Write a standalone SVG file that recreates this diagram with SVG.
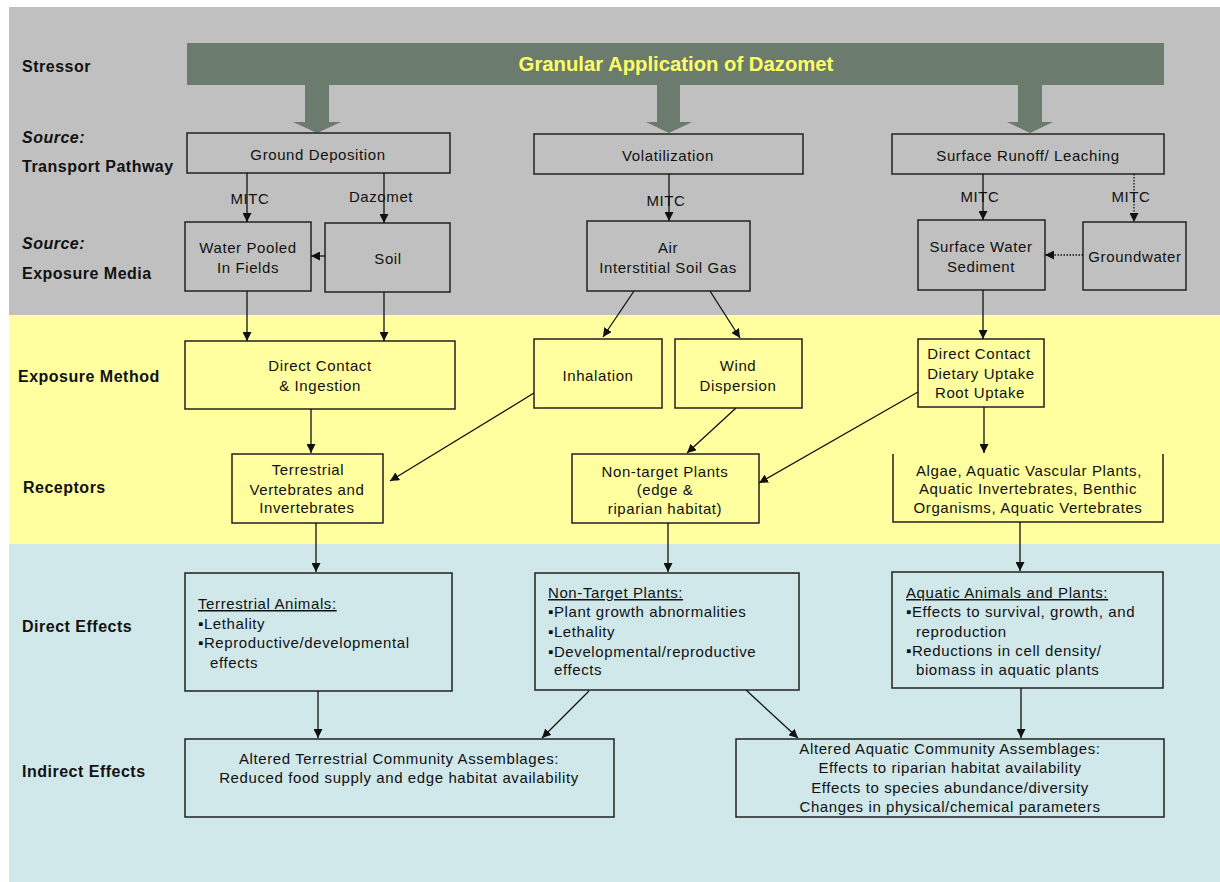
<svg xmlns="http://www.w3.org/2000/svg" width="1220" height="882" viewBox="0 0 1220 882">
<defs>
<style>
.t{font-family:"Liberation Sans",Arial,sans-serif;font-size:15px;letter-spacing:0.6px;fill:#111;text-anchor:middle}
.l{font-family:"Liberation Sans",Arial,sans-serif;font-size:15px;letter-spacing:0.6px;fill:#111;text-anchor:start}
.h{font-family:"Liberation Sans",Arial,sans-serif;font-size:16px;font-weight:bold;letter-spacing:0.5px;fill:#111}
.hi{font-style:italic}
.box{fill:none;stroke:#222;stroke-width:1.5}
.c{stroke:#111;stroke-width:1.3;fill:none;marker-end:url(#ah)}
.d{stroke-dasharray:1.5 1.5}
.u{text-decoration:underline}
.big{fill:#6B7B6E}
</style>
<marker id="ah" markerUnits="userSpaceOnUse" markerWidth="9" markerHeight="9" refX="9" refY="4.5" orient="auto">
<path d="M0,0 L9,4.5 L0,9 z" fill="#111"/>
</marker>
</defs>
<rect width="1220" height="882" fill="#fff"/>
<rect x="9" y="7" width="1211" height="308" fill="#C0C0C0"/>
<rect x="9" y="315" width="1211" height="229" fill="#FFFF9F"/>
<rect x="9" y="544" width="1211" height="338" fill="#D0E8EA"/>

<g id="row-labels">
<text class="h" x="22" y="72">Stressor</text>
<text class="h hi" x="22" y="143">Source:</text>
<text class="h" x="22" y="172">Transport Pathway</text>
<text class="h hi" x="22" y="249">Source:</text>
<text class="h" x="22" y="279">Exposure Media</text>
<text class="h" x="18" y="382">Exposure Method</text>
<text class="h" x="23" y="493">Receptors</text>
<text class="h" x="22" y="632">Direct Effects</text>
<text class="h" x="22" y="777">Indirect Effects</text>
</g>

<g id="stressor">
<rect class="big" x="187" y="43" width="977" height="42"/>
<polygon class="big" points="305,85 329,85 329,122 341,122 317,133 293,122 305,122"/>
<polygon class="big" points="657,85 680,85 680,122 692,122 669,133 646,122 657,122"/>
<polygon class="big" points="1018,85 1042,85 1042,122 1053,122 1030,133 1007,122 1018,122"/>
<text x="676" y="71" font-family="Liberation Sans,Arial,sans-serif" font-size="20.3" font-weight="bold" fill="#FFFF66" text-anchor="middle">Granular Application of Dazomet</text>
</g>

<g id="ground-deposition"><rect class="box" x="187" y="133" width="263" height="40"/><text class="t" x="318" y="160">Ground Deposition</text></g>
<g id="volatilization"><rect class="box" x="534" y="134" width="269" height="40"/><text class="t" x="668" y="161">Volatilization</text></g>
<g id="surface-runoff"><rect class="box" x="892" y="134" width="272" height="40"/><text class="t" x="1028" y="161">Surface Runoff/ Leaching</text></g>

<g id="water-pooled"><rect class="box" x="185" y="222" width="126" height="69"/><text class="t" x="248" y="253">Water Pooled</text><text class="t" x="248" y="273">In Fields</text></g>
<g id="soil"><rect class="box" x="325" y="223" width="125" height="69"/><text class="t" x="388" y="264">Soil</text></g>
<g id="air"><rect class="box" x="587" y="221" width="163" height="70"/><text class="t" x="668" y="253">Air</text><text class="t" x="668" y="273">Interstitial Soil Gas</text></g>
<g id="surface-water"><rect class="box" x="918" y="220" width="127" height="70"/><text class="t" x="981" y="252">Surface Water</text><text class="t" x="981" y="272">Sediment</text></g>
<g id="groundwater"><rect class="box" x="1083" y="222" width="103" height="68"/><text class="t" x="1135" y="262">Groundwater</text></g>

<g id="direct-contact-ingestion"><rect class="box" x="185" y="341" width="270" height="68"/><text class="t" x="320" y="371">Direct Contact</text><text class="t" x="320" y="391">&amp; Ingestion</text></g>
<g id="inhalation"><rect class="box" x="534" y="339" width="128" height="69"/><text class="t" x="598" y="381">Inhalation</text></g>
<g id="wind-dispersion"><rect class="box" x="675" y="339" width="127" height="69"/><text class="t" x="738" y="371">Wind</text><text class="t" x="738" y="391">Dispersion</text></g>
<g id="direct-contact-aquatic"><rect class="box" x="918" y="339" width="126" height="68"/><text class="t" x="979" y="359">Direct Contact</text><text class="t" x="981" y="379">Dietary Uptake</text><text class="t" x="980" y="398">Root Uptake</text></g>

<g id="terrestrial-receptors"><rect class="box" x="232" y="454" width="151" height="69"/><text class="t" x="308" y="475">Terrestrial</text><text class="t" x="307" y="495">Vertebrates and</text><text class="t" x="307" y="513">Invertebrates</text></g>
<g id="nontarget-receptors"><rect class="box" x="572" y="454" width="187" height="69"/><text class="t" x="665" y="477">Non-target Plants</text><text class="t" x="665" y="495">(edge &amp;</text><text class="t" x="665" y="514">riparian habitat)</text></g>
<g id="aquatic-receptors"><path class="box" d="M893,454 V522 H1163 V454"/><text class="t" x="1029" y="476">Algae, Aquatic Vascular Plants,</text><text class="t" x="1028" y="494">Aquatic Invertebrates, Benthic</text><text class="t" x="1028" y="513">Organisms, Aquatic Vertebrates</text></g>

<g id="terrestrial-effects"><rect class="box" x="185" y="573" width="267" height="118"/>
<text class="l u" x="198" y="609">Terrestrial Animals:</text>
<text class="l" x="198" y="629">▪Lethality</text>
<text class="l" x="198" y="648">▪Reproductive/developmental</text>
<text class="l" x="210" y="668">effects</text></g>
<g id="nontarget-effects"><rect class="box" x="535" y="573" width="264" height="117"/>
<text class="l u" x="548" y="598">Non-Target Plants:</text>
<text class="l" x="548" y="617">▪Plant growth abnormalities</text>
<text class="l" x="548" y="637">▪Lethality</text>
<text class="l" x="548" y="657">▪Developmental/reproductive</text>
<text class="l" x="554" y="675">effects</text></g>
<g id="aquatic-effects"><rect class="box" x="892" y="572" width="271" height="116"/>
<text class="l u" x="906" y="598">Aquatic Animals and Plants:</text>
<text class="l" x="906" y="617">▪Effects to survival, growth, and</text>
<text class="l" x="916" y="637">reproduction</text>
<text class="l" x="906" y="656">▪Reductions in cell density/</text>
<text class="l" x="916" y="675">biomass in aquatic plants</text></g>

<g id="terrestrial-community"><rect class="box" x="185" y="739" width="429" height="78"/>
<text class="t" x="399" y="764">Altered Terrestrial Community Assemblages:</text>
<text class="t" x="399" y="783">Reduced food supply and edge habitat availability</text></g>
<g id="aquatic-community"><rect class="box" x="736" y="739" width="428" height="78"/>
<text class="t" x="950" y="754">Altered Aquatic Community Assemblages:</text>
<text class="t" x="950" y="773">Effects to riparian habitat availability</text>
<text class="t" x="950" y="793">Effects to species abundance/diversity</text>
<text class="t" x="950" y="812">Changes in physical/chemical parameters</text></g>

<g id="connectors">
<path class="c" d="M247,173 V222"/>
<path class="c" d="M384,173 V223"/>
<path class="c" d="M325,256 H311"/>
<path class="c" d="M669,174 V221"/>
<path class="c" d="M983,174 V220"/>
<path class="c d" d="M1134,174 V222"/>
<path class="c d" d="M1083,255 H1045"/>
<path class="c" d="M247,291 V341"/>
<path class="c" d="M384,292 V341"/>
<path class="c" d="M634,291 L603,337"/>
<path class="c" d="M710,291 L740,338"/>
<path class="c" d="M983,290 V339"/>
<path class="c" d="M311,409 V453"/>
<path class="c" d="M534,393 L390,481"/>
<path class="c" d="M736,408 L687,453"/>
<path class="c" d="M918,392 L759,483"/>
<path class="c" d="M984,407 V453"/>
<path class="c" d="M316,523 V572"/>
<path class="c" d="M668,523 V572"/>
<path class="c" d="M1020,522 V571"/>
<path class="c" d="M318,691 V738"/>
<path class="c" d="M589,691 L542,738"/>
<path class="c" d="M746,690 L798,738"/>
<path class="c" d="M1021,688 V738"/>
<text class="t" x="250" y="204">MITC</text>
<text class="t" x="381" y="202">Dazomet</text>
<text class="t" x="666" y="206">MITC</text>
<text class="t" x="980" y="202">MITC</text>
<text class="t" x="1131" y="202">MITC</text>
</g>
</svg>
